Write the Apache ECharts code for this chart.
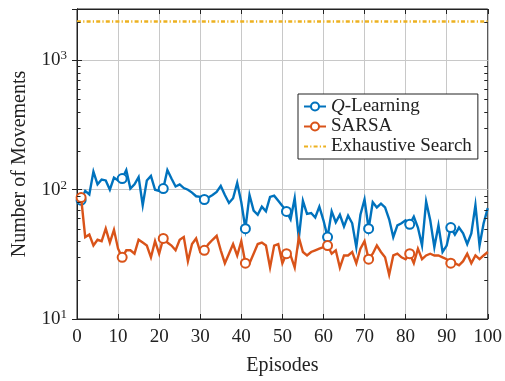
<!DOCTYPE html>
<html>
<head>
<meta charset="utf-8">
<script src="https://cdn.jsdelivr.net/npm/echarts@6/dist/echarts.min.js"></script>
<style>
html, body { margin: 0; padding: 0; background: #fff; }
#chart { width: 505px; height: 381px; }
</style>
</head>
<body>
<div id="chart"></div>
<script>
// number of movements per episode (index = episode 0..100)
const qLearning = [
  80, 83, 98, 92, 138, 110, 120, 118, 100, 124,
  118, 122, 142, 102, 110, 125, 76, 118, 128, 100,
  98, 102, 142, 122, 106, 110, 103, 100, 95, 89,
  88, 84, 87, 91, 96, 107, 91, 79, 86, 113,
  80, 50, 91, 69, 64, 74, 68, 88, 90, 82,
  75, 68, 59, 86, 42, 82, 65, 66, 61, 74,
  58, 43, 68, 56, 64, 52, 63, 55, 36, 64,
  84, 50, 80, 73, 78, 73, 59, 43, 53, 55,
  58, 54, 62, 51, 37, 81, 58, 36, 53, 33,
  37, 51, 45, 51, 46, 38, 46, 76, 37, 55,
  72
];
const sarsa = [
  91, 87, 43, 45, 37, 41, 40, 50, 39, 49,
  35, 30, 34, 34, 32, 41, 39, 37, 30, 40,
  32, 42, 39, 37, 34, 41, 43, 28, 38, 42,
  33, 34, 38, 41, 44, 34, 27, 32, 38, 31,
  40, 27, 27, 32, 38, 39, 37, 25, 37, 38,
  27, 32, 31, 25, 43, 33, 31, 33, 34, 35,
  36, 37, 32, 34, 25, 31, 31, 33, 27, 35,
  40, 29, 32, 37, 33, 30, 22, 31, 32, 30,
  29, 32, 27, 35, 29, 31, 32, 31, 31, 30,
  29, 27, 27, 26, 28, 32, 27, 31, 29, 31,
  33
];
const exhaustiveValue = 2000;
const episodeRange = [0, 100];
const markerEpisodes = [1, 11, 21, 31, 41, 51, 61, 71, 81, 91];
const yTickValues = [10, 100, 1000];
const minorTickValues = [
  20, 30, 40, 50, 60, 70, 80, 90,
  200, 300, 400, 500, 600, 700, 800, 900,
  2000
];

const BLUE = '#0072BD';
const ORANGE = '#D95319';
const YELLOW = '#EDB120';
const FONT = 'Liberation Serif';
const INK = '#222';

function lineData(values) {
  return values.map((v, i) => ({
    value: [i, v],
    symbol: markerEpisodes.includes(i) ? 'emptyCircle' : 'none'
  }));
}

const chart = echarts.init(document.getElementById('chart'));
chart.setOption({
  animation: false,
  grid: {
    left: 77, right: 14, top: 9, bottom: 58,
    show: true, borderColor: INK, borderWidth: 1
  },
  legend: {
    data: [
      { name: 'Q-Learning' },
      { name: 'SARSA' },
      { name: 'Exhaustive Search',
        itemStyle: { color: 'rgba(0,0,0,0)', borderWidth: 0, opacity: 0 } }
    ],
    orient: 'vertical',
    left: 298, top: 94,
    backgroundColor: '#fff',
    borderColor: INK, borderWidth: 1, borderRadius: 0,
    padding: [3, 6, 3, 5],
    itemGap: 1,
    itemWidth: 22, itemHeight: 10,
    formatter: name => name === 'Q-Learning' ? '{i|Q}-Learning' : name,
    textStyle: {
      fontFamily: FONT, fontSize: 19, color: INK, lineHeight: 19,
      rich: { i: { fontFamily: FONT, fontSize: 19, fontStyle: 'italic', color: INK } }
    }
  },
  xAxis: [{
    type: 'value', min: 0, max: 100, interval: 10,
    name: 'Episodes', nameLocation: 'middle', nameGap: 37,
    nameTextStyle: { fontFamily: FONT, fontSize: 20, color: INK },
    axisLine: { lineStyle: { color: INK } },
    axisTick: { inside: true, length: 5, lineStyle: { color: INK } },
    axisLabel: { fontFamily: FONT, fontSize: 19, color: INK, margin: 9 },
    splitLine: { show: true, lineStyle: { color: '#c8c8c8', width: 1 } }
  }, {
    type: 'value', min: 0, max: 100, interval: 10, position: 'top',
    axisLine: { lineStyle: { color: INK } },
    axisTick: { inside: true, length: 5, lineStyle: { color: INK } },
    axisLabel: { show: false }, splitLine: { show: false }
  }],
  yAxis: [{
    type: 'log', logBase: 10, min: 10, max: 2500,
    name: 'Number of Movements', nameLocation: 'middle', nameGap: 47,
    nameTextStyle: { fontFamily: FONT, fontSize: 20, color: INK },
    axisLine: { show: true, lineStyle: { color: INK } },
    axisTick: { inside: true, length: 5, lineStyle: { color: INK } },
    axisLabel: {
      margin: 10,
      formatter: v => {
        if (!yTickValues.includes(Math.round(v))) return '';
        return '{b|10}{s|' + Math.round(Math.log10(v)) + '}';
      },
      rich: {
        b: { fontFamily: FONT, fontSize: 19, color: INK, lineHeight: 22 },
        s: { fontFamily: FONT, fontSize: 13, color: INK, verticalAlign: 'top', lineHeight: 12 }
      }
    },
    splitLine: { show: true, lineStyle: { color: '#c8c8c8', width: 1 } }
  }, {
    type: 'log', logBase: 10, min: 10, max: 2500, position: 'right',
    axisLine: { show: true, lineStyle: { color: INK } },
    axisTick: { inside: true, length: 5, lineStyle: { color: INK } },
    axisLabel: { show: false }, splitLine: { show: false }
  }],
  series: [{
    // minor ticks of the log axis (both sides)
    type: 'custom',
    silent: true,
    z: 6,
    data: minorTickValues.map(v => [0, v]),
    renderItem: (params, api) => {
      const y = Math.round(api.coord([0, api.value(1)])[1]) + 0.5;
      const cs = params.coordSys;
      const style = { stroke: INK, lineWidth: 1 };
      return {
        type: 'group',
        children: [
          { type: 'line', shape: { x1: cs.x, y1: y, x2: cs.x + 3.5, y2: y }, style },
          { type: 'line', shape: { x1: cs.x + cs.width - 3.5, y1: y, x2: cs.x + cs.width, y2: y }, style }
        ]
      };
    }
  }, {
    name: 'Exhaustive Search',
    type: 'line',
    symbol: 'none',
    data: episodeRange.map(x => [x, exhaustiveValue]),
    lineStyle: { color: YELLOW, width: 2.5, type: [4, 2.2, 1.2, 2.2] },
    itemStyle: { color: YELLOW },
    z: 3
  }, {
    name: 'Q-Learning',
    type: 'line',
    symbol: 'emptyCircle',
    data: lineData(qLearning),
    symbolSize: 9,
    lineStyle: { color: BLUE, width: 2.4, join: 'miter' },
    itemStyle: { color: BLUE, borderWidth: 2 },
    z: 4
  }, {
    name: 'SARSA',
    type: 'line',
    symbol: 'emptyCircle',
    data: lineData(sarsa),
    symbolSize: 9,
    lineStyle: { color: ORANGE, width: 2.4, join: 'miter' },
    itemStyle: { color: ORANGE, borderWidth: 2 },
    z: 5
  }]
});
</script>
</body>
</html>
